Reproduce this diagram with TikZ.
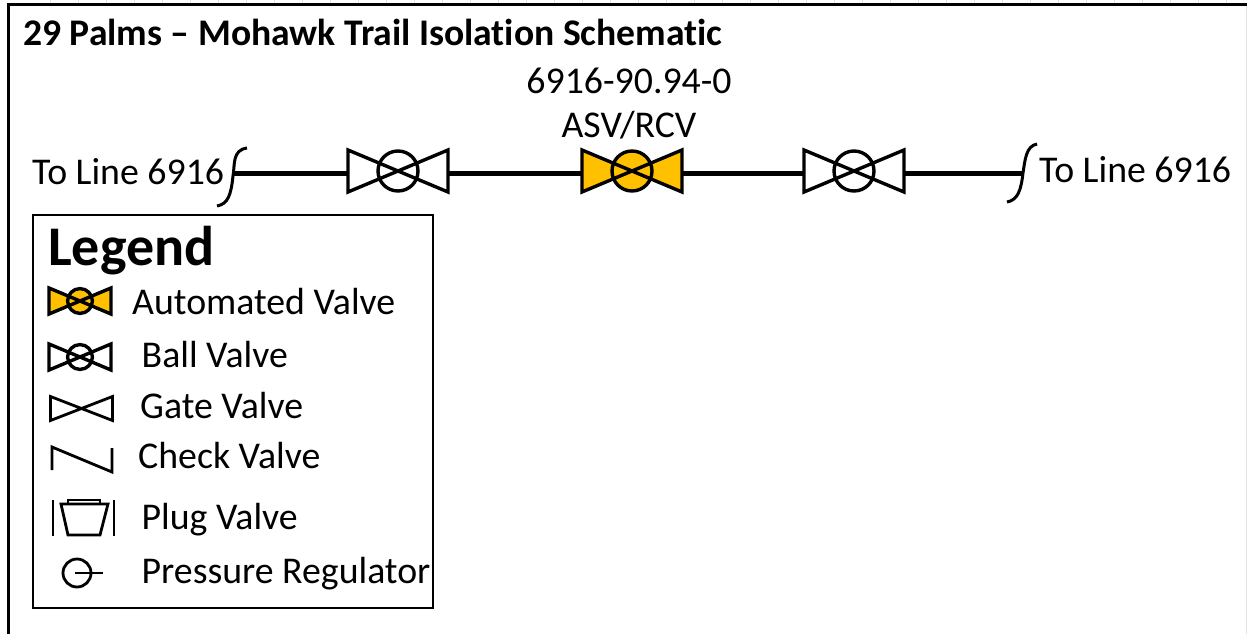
\documentclass[tikz,border=0pt]{standalone}
\usepackage{fontspec}
\setmainfont{Carlito}[Ligatures=NoCommon]
\definecolor{valveyel}{HTML}{FFC000}
\definecolor{sheetgrid}{HTML}{E4E4E4}
\tikzset{
  label33/.style={anchor=base west,inner sep=0pt,font=\fontsize{37.8}{40}\selectfont},
  labelmid/.style={anchor=base,inner sep=0pt,font=\fontsize{37.8}{40}\selectfont},
  pipeline/.style={line width=5pt},
  pics/bowtie/.style={code={
    \fill[#1] (-50,-21)--(50,21)--(50,-21)--(-50,21)--cycle;
    \draw[line width=3.4pt,fill=#1] (0,0) circle (20);
    \draw[line width=3.4pt,line join=miter] (-50,-21)--(50,21)--(50,-21)--(-50,21)--cycle;
    \coordinate (-w) at (-50,2);
    \coordinate (-e) at (50,2);
  }},
  pics/gatetie/.style={code={
    \draw[line width=2.8pt] (-31,-12)--(31,12)--(31,-12)--(-31,12)--cycle;
  }}
}
\begin{document}
\begin{tikzpicture}[x=1pt,y=-1pt]
\useasboundingbox (0,0) rectangle (1247,634);
\fill[white] (0,0) rectangle (1247,634);
% sheet
\foreach \x in {50,78,...,1240}
{
\draw[sheetgrid,line width=0.6pt] (\x,0)--(\x,3);
}
\draw[sheetgrid,line width=1pt] (1246,5)--(1246,634);
\draw[line width=3pt] (8,634)--(8,5)--(1247,5);
\node[anchor=base west,inner sep=0pt,font=\fontsize{37.6}{40}\selectfont\bfseries] (title) at (23,45.5) {29 Palms – Mohawk Trail Isolation Schematic};
% line
\coordinate (brkl) at (233,173);
\coordinate (brkr) at (1023,173);
\pic (vone) at (398,171) {bowtie=white};
\pic (vtwo) at (632,171) {bowtie=valveyel};
\pic (vthree) at (854,171) {bowtie=white};
\draw[pipeline] (brkl)--(vone-w);
\draw[pipeline] (vone-e)--(vtwo-w);
\draw[pipeline] (vtwo-e)--(vthree-w);
\draw[pipeline] (vthree-e)--(brkr);
\draw[line width=3pt] (247,148) .. controls (232,150) and (235,165) .. (233,176) .. controls (231,195) and (228,204) .. (217,206);
\draw[line width=3pt] (1037,144) .. controls (1026,146) and (1025,160) .. (1023,173) .. controls (1021,190) and (1018,200) .. (1007,202);
\node[labelmid] (tagnum) at (629,93) {6916-90.94-0};
\node[labelmid] (tagtype) at (629,137) {ASV/RCV};
\node[label33] (tol) at (32,184) {To Line 6916};
\node[label33] (tor) at (1039,182) {To Line 6916};
% legend
\draw[line width=2.5pt] (33,215) rectangle (433,608);
\node[anchor=base west,inner sep=0pt,font=\fontsize{56}{60}\selectfont\bfseries] (lgtitle) at (48,265.5) {Legend};
\pic[scale=0.62] (lgauto) at (80,301) {bowtie=valveyel};
\pic[scale=0.62] (lgball) at (80,357) {bowtie=white};
\pic (lggate) at (81.5,408.5) {gatetie};
\draw[line width=2.8pt] (52,470)--(52,447)--(112,472)--(112,448);
\draw[line width=2.8pt] (53,500)--(53,536);
\draw[line width=2.8pt] (114,500)--(114,536);
\draw[line width=2.8pt] (61,504)--(108,504)--(100,535)--(68,535)--cycle;
\draw[line width=2pt] (68,504)--(68,500)--(100,500)--(100,504);
\draw[line width=2.8pt] (77,573) circle (14);
\draw[line width=2.8pt] (75,573)--(103,573);
\node[label33] (lbauto) at (132,314) {Automated Valve};
\node[label33] (lbball) at (141.5,367.5) {Ball Valve};
\node[label33] (lbgate) at (140,418) {Gate Valve};
\node[label33] (lbcheck) at (138,468) {Check Valve};
\node[label33] (lbplug) at (141.5,529) {Plug Valve};
\node[label33] (lbpress) at (141.5,583.5) {Pressure Regulator};
\end{tikzpicture}
\end{document}
